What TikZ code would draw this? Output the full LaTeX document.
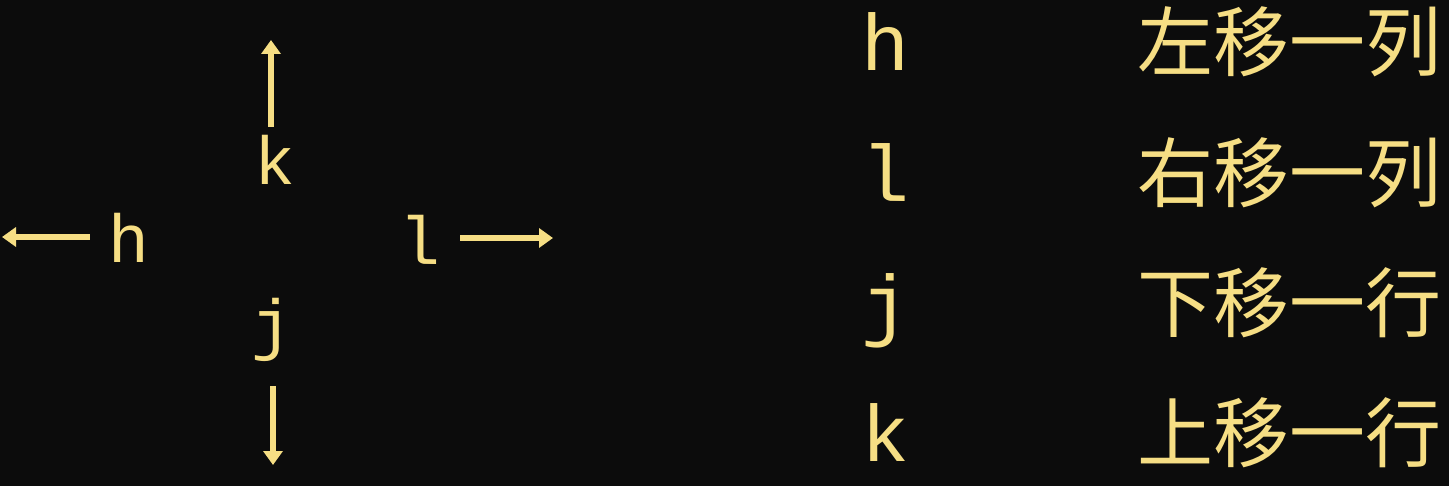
\documentclass[tikz,border=0pt]{standalone}
\usepackage{fontspec}
\setmonofont{Liberation Mono}
\newfontfamily\cjk{Noto Sans CJK SC}
\usetikzlibrary{matrix,arrows.meta}

\definecolor{vimgelb}{HTML}{F6DE84}
\definecolor{hintergrund}{HTML}{0C0C0C}

\begin{document}
\begin{tikzpicture}[%
    x=0.5pt, y=-0.5pt,
    color=vimgelb,
    taste/.style={inner sep=0pt, outer sep=0pt, anchor=base,
        font=\ttfamily\fontsize{34pt}{34pt}\selectfont},
    pfeil/.style={->, line width=2.6pt},
    >={Triangle[width=9.5pt,length=7pt]} % Pfeilspitzen
    ]
        % Hintergrund
        \useasboundingbox (0,0) rectangle (1449,486);
        \fill [hintergrund] (0,0) rectangle (1449,486);

        % Tasten
        \node [taste] (K) at (275,185) {k};
        \node [taste] (H) at (129,262) {h};
        \node [taste] (L) at (420,264) {l};
        \node [taste] (J) at (272,347) {j};

        % Pfeilenden
        \coordinate (K-ende) at (271,40);
        \coordinate (H-ende) at (2,237);
        \coordinate (L-ende) at (553,238);
        \coordinate (J-ende) at (273,465);

        % Pfeile
        \draw [pfeil, shorten <=4.5pt]  (K.north -| K-ende) -- (K-ende);
        \draw [pfeil, shorten <=9.5pt]  (H.west |- H-ende)  -- (H-ende);
        \draw [pfeil, shorten <=10pt]   (L.east |- L-ende)  -- (L-ende);
        \draw [pfeil, shorten <=12.5pt] (J.south -| J-ende) -- (J-ende);

        % Befehle
        \matrix (befehle) [
            matrix of nodes, anchor=north west,
            inner sep=0pt, outer sep=0pt,
            column sep=114pt, row sep=27.15pt,
            nodes={inner sep=0pt, outer sep=0pt,
                text height=30.4pt, text depth=7.6pt},
            column 1/.style={nodes={font=\ttfamily\fontsize{40pt}{40pt}\selectfont}},
            column 2/.style={nodes={anchor=base west,
                font=\cjk\fontsize{38pt}{38pt}\selectfont}}
        ] at (861,10)
        {
            h & 左移一列 \\
            l & 右移一列 \\
            j & 下移一行 \\
            k & 上移一行 \\
        };
    \end{tikzpicture}
\end{document}
